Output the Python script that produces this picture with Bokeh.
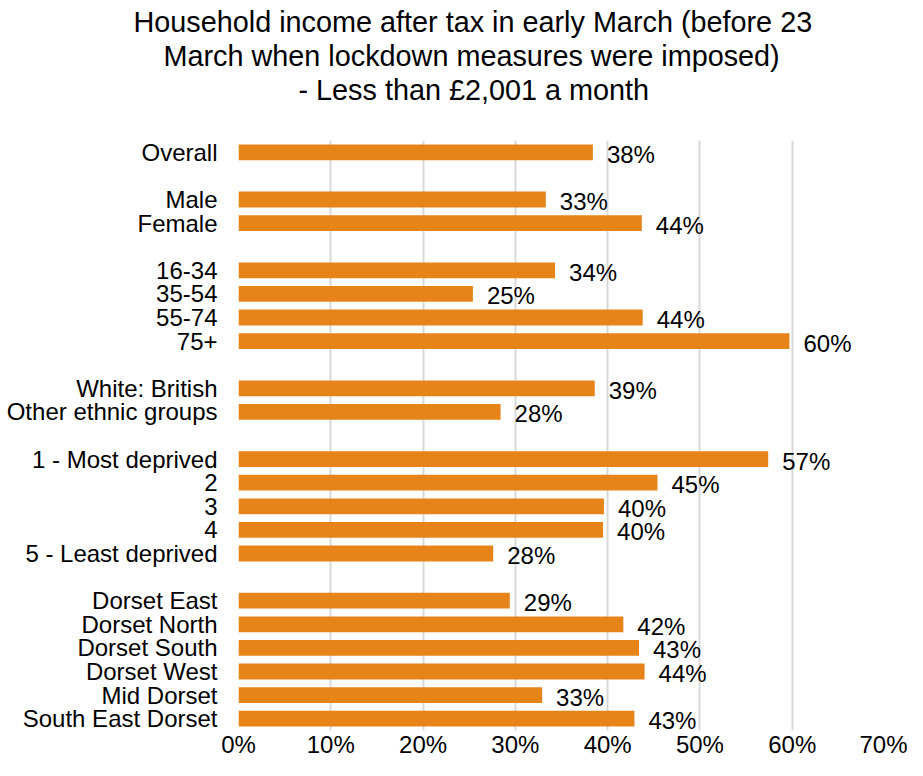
from bokeh.plotting import figure
from bokeh.models import ColumnDataSource, Range1d, FixedTicker, Title
from bokeh.embed import file_html
from bokeh.resources import INLINE
from bokeh.core.properties import value

# ---- data ----
groups = [
    ["Overall"],
    ["Male", "Female"],
    ["16-34", "35-54", "55-74", "75+"],
    ["White: British", "Other ethnic groups"],
    ["1 - Most deprived", "2", "3", "4", "5 - Least deprived"],
    ["Dorset East", "Dorset North", "Dorset South", "Dorset West", "Mid Dorset", "South East Dorset"],
]
values = [38.4, 33.3, 43.7, 34.3, 25.4, 43.8, 59.7, 38.6, 28.4, 57.4,
          45.4, 39.6, 39.5, 27.6, 29.4, 41.7, 43.4, 44.0, 32.9, 42.9]
value_labels = ["38%", "33%", "44%", "34%", "25%", "44%", "60%", "39%", "28%", "57%",
                "45%", "40%", "40%", "28%", "29%", "42%", "43%", "44%", "33%", "43%"]
x_ticks = [0, 10, 20, 30, 40, 50, 60, 70]
title_lines = [
    "Household income after tax in early March (before 23",
    "March when lockdown measures were imposed)",
    "- Less than £2,001 a month",
]

FONT = "Liberation Sans"
BAR = "#E6841A"
TXT = "#000000"

# slot positions with one empty slot between groups
categories, ypos = [], []
slot = 0
for g in groups:
    for c in g:
        categories.append(c)
        ypos.append(slot)
        slot += 1
    slot += 1
n_slots = slot - 1

src = ColumnDataSource(dict(y=ypos, v=values, lbl=value_labels, cat=categories))

FRAME_LEFT = 238
p = figure(width=907, height=760, output_backend="svg", toolbar_location=None,
           x_range=Range1d(0, 70), y_range=Range1d(n_slots - 0.5, -0.5),
           min_border_left=FRAME_LEFT, min_border_right=23, min_border_top=140, min_border_bottom=30)
p.title = None
p.outline_line_color = None
p.background_fill_color = "white"

p.hbar(y="y", left=0, right="v", height=0.67, source=src, fill_color=BAR, line_color=None)
p.text(x="v", y="y", text="lbl", source=src, x_offset=14, y_offset=2,
       text_baseline="middle", text_align="left", text_font=value(FONT),
       text_font_size="24px", text_color=TXT)

# x axis
p.xaxis.ticker = FixedTicker(ticks=x_ticks)
p.xaxis.major_label_overrides = {t: f"{t}%" for t in x_ticks}
p.xaxis.axis_line_color = None
p.xaxis.major_tick_line_color = None
p.xaxis.minor_tick_line_color = None
p.xaxis.major_tick_in = 0
p.xaxis.major_tick_out = 0
p.xaxis.major_label_standoff = 0
p.xaxis.major_label_text_font = FONT
p.xaxis.major_label_text_font_size = "24px"
p.xaxis.major_label_text_color = TXT

# y axis
p.yaxis.ticker = FixedTicker(ticks=ypos)
p.yaxis.major_label_overrides = {y: c for y, c in zip(ypos, categories)}
p.yaxis.axis_line_color = None
p.yaxis.major_tick_line_color = None
p.yaxis.minor_tick_line_color = None
p.yaxis.major_tick_in = 0
p.yaxis.major_tick_out = 0
p.yaxis.major_label_standoff = 21
p.yaxis.major_label_text_font = FONT
p.yaxis.major_label_text_font_size = "24px"
p.yaxis.major_label_text_color = TXT

p.xgrid.ticker = FixedTicker(ticks=x_ticks)
p.xgrid.grid_line_color = "#d9d9d9"
p.xgrid.grid_line_width = 2
p.ygrid.grid_line_color = None

# blank spacer between the plot area and the title block
p.add_layout(Title(text=" ", text_font_size="1px", standoff=32), "above")

# three-line title; each line left-shifted so that the block is centred near x=471
title_starts = [133, 163, 298]
for i in reversed(range(len(title_lines))):
    p.add_layout(Title(text=title_lines[i], align="left", offset=title_starts[i] - FRAME_LEFT,
                       text_font=FONT, text_font_size="28.8px", text_font_style="normal",
                       text_color=TXT, standoff=0), "above")

open("out.html", "w").write(file_html(p, INLINE))
